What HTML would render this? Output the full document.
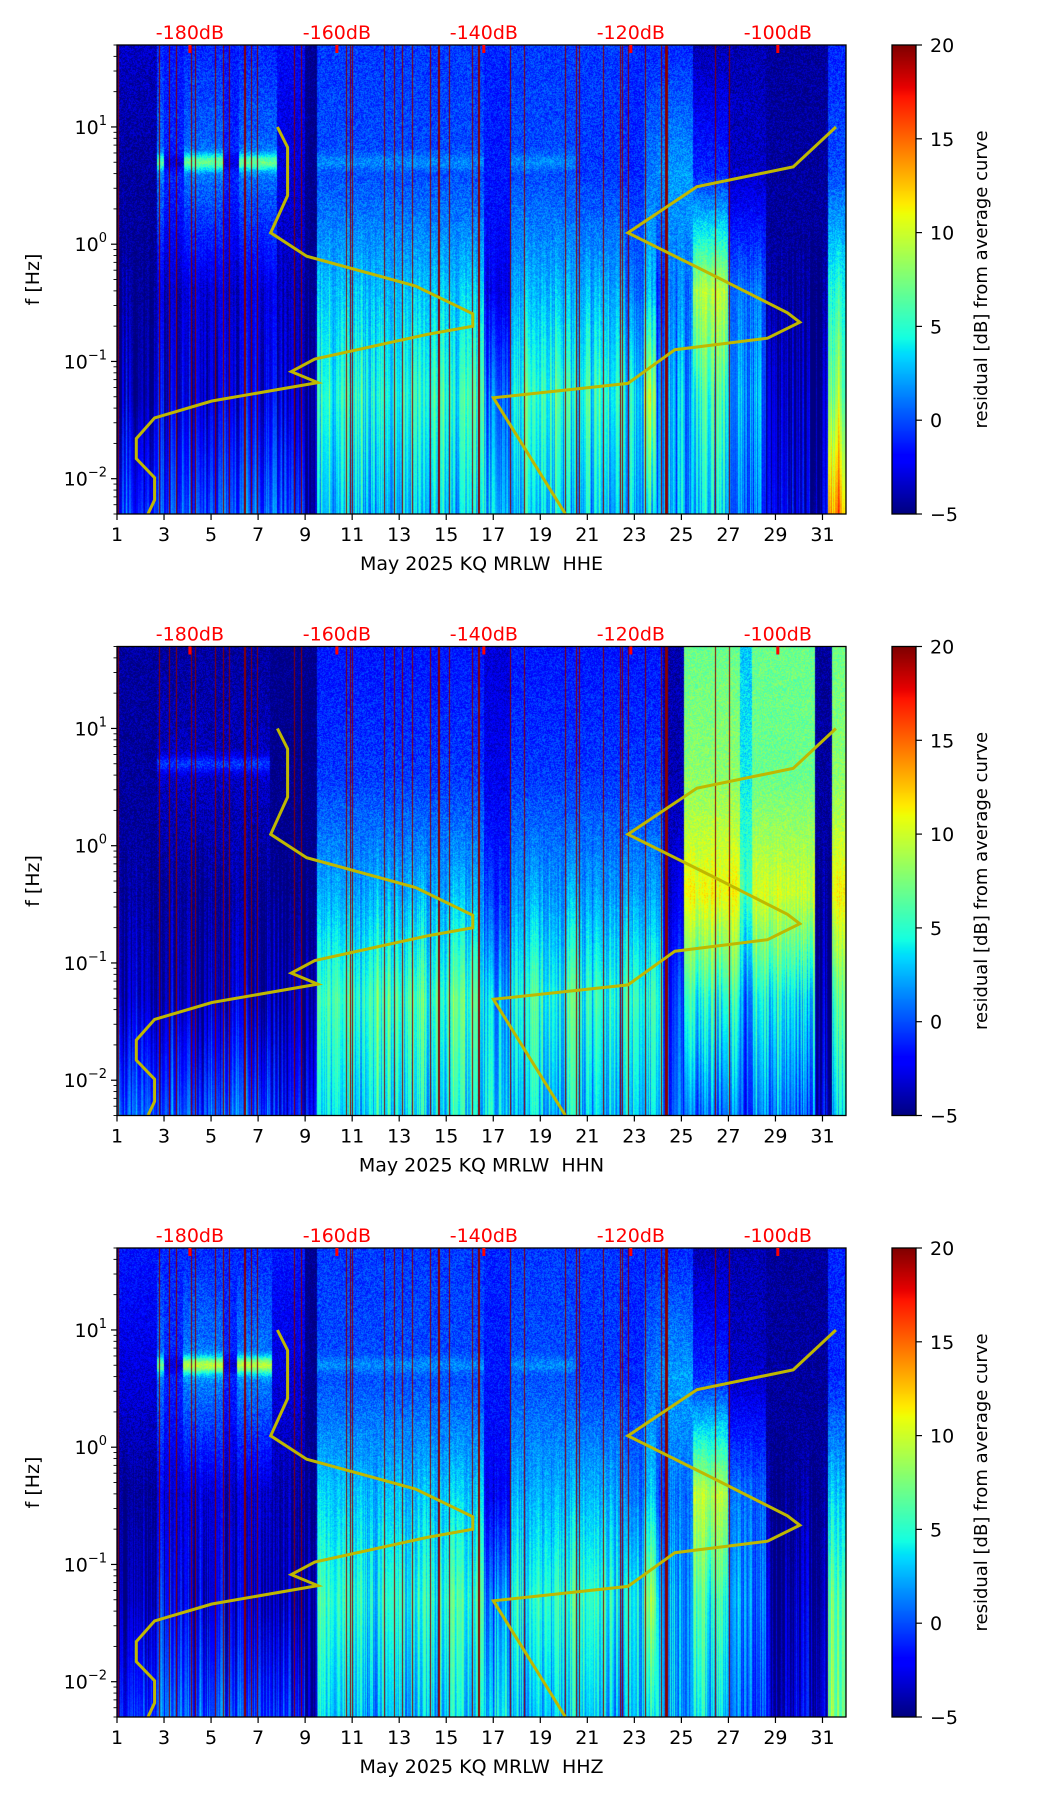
<!DOCTYPE html>
<html><head><meta charset="utf-8">
<style>
html,body{margin:0;padding:0;background:#fff;}
#fig{position:relative;width:1052px;height:1806px;overflow:hidden;background:#fff;}
canvas{position:absolute;}
svg{position:absolute;left:0;top:0;}
text{font-family:"DejaVu Sans","Liberation Sans",sans-serif;white-space:pre;}
</style></head>
<body>
<div id="fig">
<svg id="ov" width="1052" height="1806"></svg>
</div>
<script>
// ---------- data ----------
const panelTitles = ["May 2025 KQ MRLW  HHE","May 2025 KQ MRLW  HHN","May 2025 KQ MRLW  HHZ"];
const dbTicks = [-180,-160,-140,-120,-100];
const dayTicks = [1,3,5,7,9,11,13,15,17,19,21,23,25,27,29,31];
const cbTicks = [-5,0,5,10,15,20];
const freqTickExp = [-2,-1,0,1];
// average PSD curve (two branches): dB and frequency
const curve1Db = [-168.1,-166.7,-166.7,-169.0,-164.1,-149.3,-141.5,-141.5,-147.7,-163.0,-166.2,-162.6,-177.0,-184.8,-187.3,-187.3,-184.8,-184.8,-185.7];
const curve1F  = [10,6.7,2.6,1.25,0.79,0.44,0.255,0.2,0.17,0.105,0.082,0.066,0.046,0.033,0.022,0.0148,0.0102,0.0066,0.005];
const curve2Db = [-92.1,-97.9,-111.0,-120.4,-108.7,-98.7,-97.0,-101.4,-114.0,-120.4,-138.7,-128.9];
const curve2F  = [10,4.56,3.1,1.25,0.54,0.26,0.216,0.158,0.126,0.065,0.049,0.005];
// data-gap markers (days)
const redLineDays = [1.06,2.77,3.23,3.51,4.15,4.31,5.18,5.5,5.75,6.39,6.46,6.71,6.97,8.52,8.82,10.72,10.89,11.01,12.37,12.76,13.14,13.54,14.32,14.63,14.7,15.13,16.09,16.35,16.39,17.72,18.29,20.03,20.5,20.63,21.65,22.4,22.46,22.72,23.44,24.15,24.29,24.36,26.42,27.04];
// spectrogram residual segments: end day + residual (dB) at 50Hz, 4Hz, 0.4Hz, 0.05Hz, 0.005Hz, plus 5Hz band boost
const hheEnd   = [2.7,3.0,3.85,5.5,6.2,7.8,9.0,9.5,16.6,17.7,20.5,22.6,23.4,23.9,24.4,25.5,27.0,28.6,31.25,32];
const hheA50   = [-3.5,-1,-1.5,-1,-1.5,-1,-2,-5,-0.5,-1,-0.5,-0.5,-1,-1,-1,-1,-4,-4,-4.5,-1];
const hheA4    = [-4.5,1,-1,1,-1,1,-3,-5,0,-1.5,0,-0.5,-1,1,1.5,2,-1,-3.5,-4.5,0];
const hheA04   = [-4.5,-2,-3.5,-3,-3.5,-3,-4,-5,3,-2.5,2.5,2.5,1,3,-1,1,9,1,-4.5,5];
const hheA005  = [-4,0,-3,-3,-3,-3,-4,-5,5,1,5,5,4,9,1,2,5,2,-4,8];
const hheA0005 = [-1,2,0,0,0,0,-1,-5,3,3,3,3,3,4,2,2,3,1,-3,14];
const hheBand  = [0,5,-2,6,-2,6,0,0,1.5,0,1.5,0,0,0,0,0,0,0,0,0];
const hhnEnd   = [2.7,7.5,9.5,16.6,17.7,24.2,25.1,27.5,28.0,30.7,31.4,32];
const hhnA50   = [-4.5,-4.5,-5,-1.5,-3,-1.5,-4,7,3,7,-4.5,7];
const hhnA4    = [-4.5,-3.5,-5,-0.5,-2.5,-0.5,-4,8,4,7,-4.5,8];
const hhnA04   = [-4.5,-4.5,-5,2.5,-1,2,-3,11,6,10,-4.5,11];
const hhnA005  = [-4,-4,-4.5,6,2,5,-1,5,2,4,-4.5,6];
const hhnA0005 = [0,0,-2,4,3,3,0,1,0,1,-3,3];
const hhnBand  = [0,3,0,0,0,0,0,0,0,0,0,0];
const hhzEnd   = [2.7,3.0,3.8,5.5,6.1,7.6,9.0,9.5,16.6,17.7,20.5,22.6,23.4,23.9,24.4,25.5,27.0,28.6,31.25,32];
const hhzA50   = [-1.5,-1,-1,-1,-1,-1,-1.5,-5,-0.5,-1,-0.5,-0.5,-1,-1,-1,-1,-4,-4,-4.5,-1];
const hhzA4    = [-3,1,-1,1.5,-1,1.5,-3,-5,0,-1.5,0,-0.5,-1,1,1.5,2,-1,-3.5,-4.5,-1];
const hhzA04   = [-4.5,-2,-3.5,-3,-3.5,-3,-4,-5,3,-2.5,2.5,2.5,1,3,-1,1,9,1,-4.5,3];
const hhzA005  = [-4,0,-3,-3,-3,-3,-4,-5,5,1,5,5,4,8,1,2,5,2,-4,6];
const hhzA0005 = [-1,2,0,0,0,0,-1,-5,3,3,3,3,3,4,2,2,3,1,-3,7];
const hhzBand  = [0,6,-2,8,-2,8,0,0,1.5,0,1.5,0,0,0,0,0,0,0,0,0];

// ---------- layout ----------
const L=117, W=729, H=469, TOPS=[45,646.5,1248];
const CBX=892, CBW=24;
const dayMin=1, dayMax=32, logMin=Math.log10(0.005), logMax=Math.log10(50);
const xDay = d => L + (d-dayMin)/(dayMax-dayMin)*W;
const xDb = db => xDay(4.1 + (db+180)/20*6.25);
const yF = (f,top) => top + (logMax-Math.log10(f))/(logMax-logMin)*H;
const cbY = (v,top) => top + (20-v)/25*H;

function interp(pts,t){for(let i=0;i<pts.length-1;i++){if(t<=pts[i+1][0]){const a=pts[i],b=pts[i+1];return a[1]+(b[1]-a[1])*(t-a[0])/(b[0]-a[0]);}}return pts[pts.length-1][1];}
const JR=[[0,0],[0.35,0],[0.66,1],[0.89,1],[1,0.5]], JG=[[0,0],[0.125,0],[0.375,1],[0.64,1],[0.91,0],[1,0]], JB=[[0,0.5],[0.11,1],[0.34,1],[0.65,0],[1,0]];
function jet(t){t=Math.max(0,Math.min(1,t));return [interp(JR,t)*255,interp(JG,t)*255,interp(JB,t)*255];}
function hash(a,b){let h=(a*374761393+b*668265263)|0;h=(h^(h>>>13))*1274126177|0;return ((h^(h>>>16))>>>0)/4294967295*2-1;}

const panels=[
 {end:hheEnd,a:[hheA50,hheA4,hheA04,hheA005,hheA0005],band:hheBand},
 {end:hhnEnd,a:[hhnA50,hhnA4,hhnA04,hhnA005,hhnA0005],band:hhnBand},
 {end:hhzEnd,a:[hhzA50,hhzA4,hhzA04,hhzA005,hhzA0005],band:hhzBand}];
const anchorsLog=[1.7,0.6,-0.4,-1.3,-2.3];

const fig=document.getElementById('fig');
const NS='http://www.w3.org/2000/svg';
const ov=document.getElementById('ov');
function el(tag,attrs,parent){const e=document.createElementNS(NS,tag);for(const k in attrs)e.setAttribute(k,attrs[k]);(parent||ov).appendChild(e);return e;}

panels.forEach((p,pi)=>{
  const top=TOPS[pi];
  const cv=document.createElement('canvas');
  cv.width=W;cv.height=H;cv.style.left=L+'px';cv.style.top=top+'px';
  
  
  fig.insertBefore(cv,ov);
  const ctx=cv.getContext('2d');const img=ctx.createImageData(W,H);
  for(let x=0;x<W;x++){
    const day=dayMin+(x+0.5)/W*(dayMax-dayMin);
    let s=p.end.findIndex(e=>day<=e); if(s<0)s=p.end.length-1;
    const pts=anchorsLog.map((lg,k)=>[-lg,p.a[k][s]]);
    const colN=hash(x,7+pi)*2.2, colN2=hash(Math.floor(x/3),31+pi)*1.4;
    for(let y=0;y<H;y++){
      const lg=logMax-(y+0.5)/H*(logMax-logMin);
      let v=interp(pts,-lg);
      v+=p.band[s]*Math.exp(-Math.pow((lg-0.7)/0.07,2));
      const low=Math.max(0,Math.min(1,(0.3-lg)/1.6));
      const n=hash(x*977+y,pi+3);
      v+= (colN+colN2)*low + n*1.4*(1-low) + n*0.4*low;
      const c=jet((v+5)/25);const i=(y*W+x)*4;
      img.data[i]=c[0];img.data[i+1]=c[1];img.data[i+2]=c[2];img.data[i+3]=255;
    }
  }
  ctx.putImageData(img,0,0);
  redLineDays.forEach(d=>{
    ctx.fillStyle='#8a0000';
    const w=(d===24.29)?3:1;
    ctx.fillRect(Math.round(xDay(d)-L),0,w,H);
  });
  const cb=document.createElement('canvas');cb.width=CBW;cb.height=H;
  cb.style.left=CBX+'px';cb.style.top=top+'px';
  
  
  fig.insertBefore(cb,ov);
  const cx=cb.getContext('2d');
  for(let y=0;y<H;y++){const c=jet(1-(y+0.5)/H);cx.fillStyle=`rgb(${c[0]|0},${c[1]|0},${c[2]|0})`;cx.fillRect(0,y,CBW,1);}

  const g=el('g',{});
  
  
  [[curve1Db,curve1F],[curve2Db,curve2F]].forEach((c,ci)=>{
    const pl=el('polyline',{points:c[0].map((d,i)=>xDb(d).toFixed(1)+','+yF(c[1][i],top).toFixed(1)).join(' '),fill:'none',stroke:'#bfb800','stroke-width':3,'stroke-linejoin':'miter'},g);
    
    
  });
  const fr=el('rect',{x:L,y:top,width:W,height:H,fill:'none',stroke:'#000','stroke-width':1.3},g);
  
  
  dbTicks.forEach(db=>{
    const x=xDb(db);
    el('rect',{x:x-1.5,y:top,width:3,height:8,fill:'#ff0000'},g);
    const t=el('text',{x:x,y:top-6,'text-anchor':'middle','font-size':19,fill:'#ff0000'},g);
    t.textContent=db+'dB';
    
    
  });
  dayTicks.forEach(d=>{
    const x=xDay(d);
    el('line',{x1:x,x2:x,y1:top+H,y2:top+H+6,stroke:'#000','stroke-width':1.2},g);
    const t=el('text',{x:x,y:top+H+27,'text-anchor':'middle','font-size':19,fill:'#000'},g);
    t.textContent=d;
    
    
  });
  const xl=el('text',{x:L+W/2,y:top+H+56,'text-anchor':'middle','font-size':19,fill:'#000'},g);
  xl.textContent=panelTitles[pi];
  
  
  for(let e=-3;e<=1;e++){for(let m=1;m<=9;m++){const f=m*Math.pow(10,e);if(f<0.005-1e-9||f>50+1e-9)continue;const y=yF(f,top);
    el('line',{x1:L-(m===1?6:3.5),x2:L,y1:y,y2:y,stroke:'#000','stroke-width':m===1?1.2:0.9},g);}}
  freqTickExp.forEach(e=>{
    const y=yF(Math.pow(10,e),top);
    const t=el('text',{x:L-10,y:y+7,'text-anchor':'end','font-size':19,fill:'#000'},g);
    const a=el('tspan',{},t);a.textContent='10';
    const b=el('tspan',{dy:-9,'font-size':13},t);b.textContent=(e<0?'\u2212':'')+Math.abs(e);
    
    
  });
  const yl=el('text',{x:0,y:0,'text-anchor':'middle','font-size':19,fill:'#000',transform:`translate(39,${top+H/2}) rotate(-90)`},g);
  yl.textContent='f [Hz]';
  
  
  el('rect',{x:CBX,y:top,width:CBW,height:H,fill:'none',stroke:'#000','stroke-width':1.3},g);
  cbTicks.forEach(v=>{
    const y=cbY(v,top);
    el('line',{x1:CBX+CBW,x2:CBX+CBW+6,y1:y,y2:y,stroke:'#000','stroke-width':1.2},g);
    const t=el('text',{x:CBX+CBW+14,y:y+7,'font-size':19,fill:'#000'},g);
    t.textContent=(v<0?'\u2212':'')+Math.abs(v);
    
    
  });
  const cl=el('text',{x:0,y:0,'text-anchor':'middle','font-size':18,fill:'#000',transform:`translate(987,${top+H/2}) rotate(-90)`},g);
  cl.textContent='residual [dB] from average curve';
  
  
});
</script>
</body></html>
